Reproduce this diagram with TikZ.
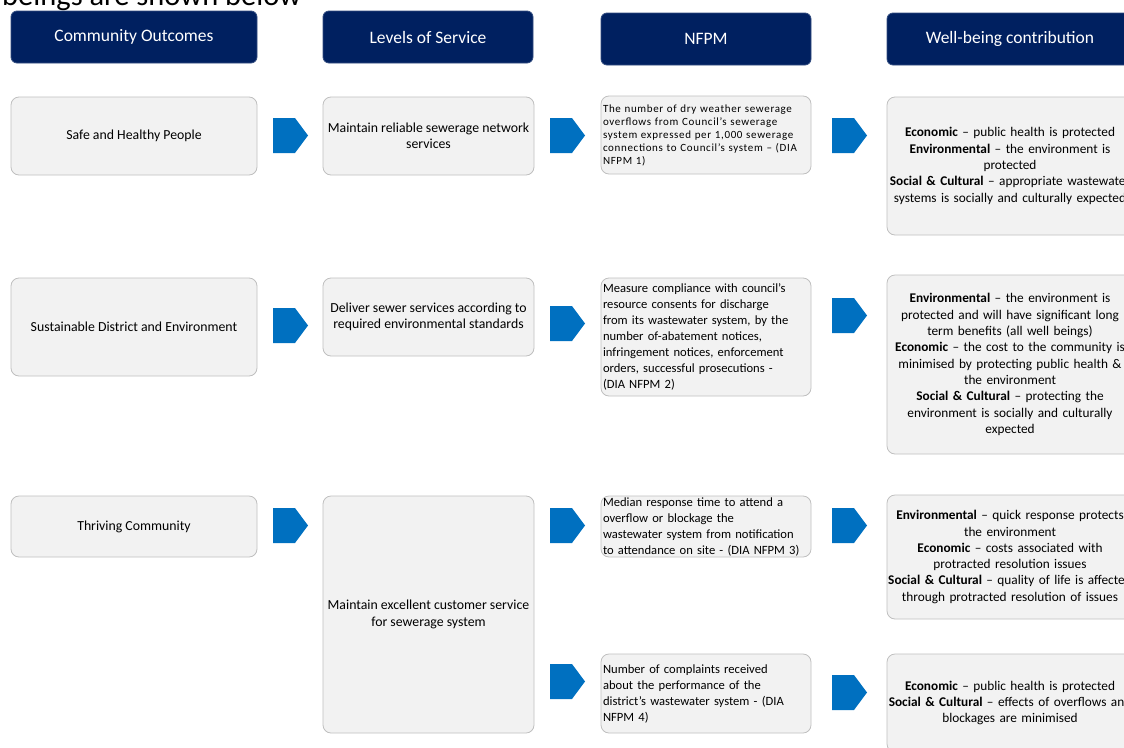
\documentclass[tikz,border=0pt]{standalone}
\usepackage{fontspec}
\setmainfont{Carlito}
\definecolor{navy}{HTML}{002060}
\definecolor{arrowblue}{HTML}{0070C0}
\definecolor{boxfill}{HTML}{F2F2F2}
\definecolor{boxline}{HTML}{BFBFBF}
\tikzset{
  head/.style={draw=navy!80!white, line width=0.8pt, fill=navy, rounded corners=6pt, text=white,
    minimum height=52pt, font=\fontsize{17.5}{20}\selectfont, inner sep=0pt},
  box/.style={draw=boxline, line width=0.8pt, fill=boxfill, rounded corners=8pt, inner sep=0pt,
    font=\fontsize{13.8}{16.3}\selectfont, align=center},
  nfbox/.style={box, align=left, inner xsep=2pt, text width=206pt, font=\fontsize{12.6}{16}\selectfont},
  wbbox/.style={box, minimum width=246pt, text width=246pt, font=\fontsize{13.3}{16.3}\selectfont},
  chev/.pic={\fill[arrowblue] (0,-17.5) -- (22,-17.5) -- (35,0) -- (22,17.5) -- (0,17.5) -- cycle;}
}
\begin{document}
\begin{tikzpicture}[x=1pt,y=-1pt]
\useasboundingbox (0,0) rectangle (1124,747);
% cut-off line of text above
\node[anchor=base west, inner sep=0pt, font=\fontsize{30.5}{34}\selectfont] (intro) at (2,5) {beings are shown below};
% headers
\node[head, minimum width=246pt] (h1) at (134,37) {Community Outcomes};
\node[head, minimum width=210pt] (h2) at (428,37) {Levels of Service};
\node[head, minimum width=210pt] (h3) at (706,39) {NFPM};
\node[head, minimum width=246pt] (h4) at (1010,39) {Well-being contribution};
% community outcomes
\node[box, minimum width=246pt, minimum height=78pt] (co1) at (134,136) {Safe and Healthy People};
\node[box, minimum width=246pt, minimum height=98pt] (co2) at (134,327) {Sustainable District and Environment};
\node[box, minimum width=246pt, minimum height=61pt] (co3) at (134,526.5) {Thriving Community};
% levels of service
\node[box, minimum width=211pt, minimum height=78pt] (ls1) at (428.5,136) {Maintain reliable sewerage network\\services};
\node[box, minimum width=211pt, minimum height=78pt] (ls2) at (428.5,317) {Deliver sewer services according to\\required environmental standards};
\node[box, minimum width=211pt, minimum height=237pt] (ls3) at (428.5,614.5) {Maintain excellent customer service\\for sewerage system};
% NFPM
\node[nfbox, minimum height=78pt, font=\fontsize{11}{13}\selectfont\addfontfeature{LetterSpace=6}] (nf1) at (706,135) {The number of dry weather sewerage\\overflows from Council’s sewerage\\system expressed per 1,000 sewerage\\connections to Council’s system – (DIA\\NFPM 1)};
\node[nfbox, minimum height=118pt] (nf2) at (706,337) {Measure compliance with council’s\\resource consents for discharge\\from its wastewater system, by the\\number of-abatement notices,\\infringement notices, enforcement\\orders, successful prosecutions -\\(DIA NFPM 2)};
\node[nfbox, minimum height=61pt] (nf3) at (706,526.5) {Median response time to attend a\\overflow or blockage the\\wastewater system from notification\\to attendance on site - (DIA NFPM 3)};
\node[nfbox, minimum height=79pt] (nf4) at (706,693.5) {Number of complaints received\\about the performance of the\\district’s wastewater system - (DIA\\NFPM 4)};
% well-being
\node[wbbox, minimum height=138pt] (wb1) at (1010,166) {\textbf{Economic} – public health is protected\\\textbf{Environmental} – the environment is\\protected\\\textbf{Social \& Cultural} – appropriate wastewater\\systems is socially and culturally expected};
\node[wbbox, minimum height=179pt] (wb2) at (1010,364.5) {\textbf{Environmental} – the environment is\\protected and will have significant long\\term benefits (all well beings)\\\textbf{Economic} – the cost to the community is\\minimised by protecting public health \&\\the environment\\\textbf{Social \& Cultural} – protecting the\\environment is socially and culturally\\expected};
\node[wbbox, minimum height=124pt] (wb3) at (1010,557) {\textbf{Environmental} – quick response protects\\the environment\\\textbf{Economic} – costs associated with\\protracted resolution issues\\\textbf{Social \& Cultural} – quality of life is affected\\through protracted resolution of issues};
\node[wbbox, minimum height=98pt] (wb4) at (1010,703) {\textbf{Economic} – public health is protected\\\textbf{Social \& Cultural} – effects of overflows and\\blockages are minimised};
% chevrons
\pic at (273,135.5) {chev};
\pic at (550,135.5) {chev};
\pic at (832,135.5) {chev};
\pic at (273,325.5) {chev};
\pic at (550,323.5) {chev};
\pic at (832,315.5) {chev};
\pic at (273,525.5) {chev};
\pic at (550,525.5) {chev};
\pic at (832,525.5) {chev};
\pic at (550,681.5) {chev};
\pic at (832,692.5) {chev};
\end{tikzpicture}
\end{document}
